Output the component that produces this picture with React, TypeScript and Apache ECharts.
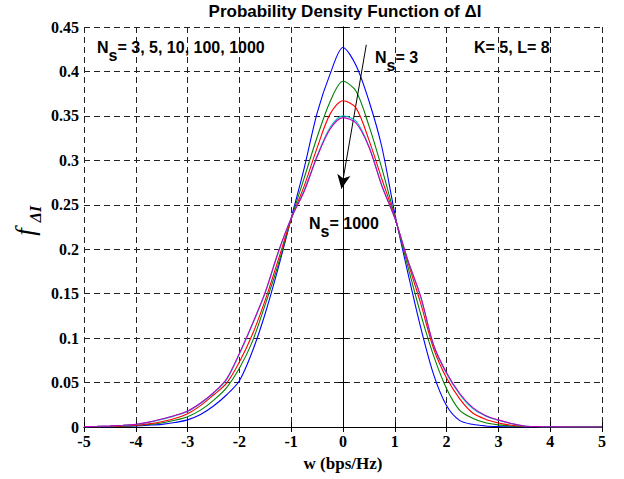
import React, { useEffect, useRef } from "react";
import * as echarts from "echarts";

const xValues = [
  -5, -4.75, -4.5, -4.25, -4, -3.75, -3.5, -3.25, -3, -2.75, -2.5, -2.25, -2, -1.75, -1.5, -1.25, -1, -0.75, -0.5, -0.25,
  0, 0.25, 0.5, 0.75, 1, 1.25, 1.5, 1.75, 2, 2.25, 2.5, 2.75, 3, 3.25, 3.5, 3.75, 4, 4.25, 4.5, 4.75, 5,
];

const ns3 = [
  0, 0.0002, 0.0004, 0.0008, 0.0012, 0.002, 0.003, 0.005, 0.008, 0.014, 0.0236, 0.036, 0.052, 0.085, 0.128, 0.179, 0.235, 0.291, 0.353, 0.397,
  0.427, 0.407, 0.367, 0.315, 0.24, 0.174, 0.112, 0.059, 0.024, 0.0075, 0.003, 0.0012, 0.0005, 0.0002, 0.0001, 0, 0, 0, 0, 0, 0,
];
const ns5 = [
  0.0001, 0.0003, 0.0006, 0.001, 0.0016, 0.0028, 0.0045, 0.0075, 0.0116, 0.019, 0.03, 0.044, 0.066, 0.096, 0.138, 0.183, 0.234, 0.28, 0.326, 0.366,
  0.389, 0.378, 0.339, 0.291, 0.237, 0.181, 0.127, 0.08, 0.043, 0.019, 0.0098, 0.0048, 0.0024, 0.0012, 0.0006, 0.0003, 0.0001, 0, 0, 0, 0,
];
const ns10 = [
  0.0002, 0.0004, 0.0008, 0.0013, 0.002, 0.0035, 0.006, 0.0095, 0.015, 0.024, 0.036, 0.049, 0.073, 0.104, 0.143, 0.188, 0.234, 0.271, 0.314, 0.352,
  0.367, 0.359, 0.323, 0.279, 0.236, 0.186, 0.139, 0.088, 0.055, 0.032, 0.016, 0.0087, 0.0045, 0.002, 0.0009, 0.0004, 0.0002, 0.0001, 0, 0, 0,
];
const ns100 = [
  0.0004, 0.0007, 0.0012, 0.0019, 0.0029, 0.0052, 0.0086, 0.0125, 0.0175, 0.0265, 0.038, 0.053, 0.082, 0.115, 0.151, 0.196, 0.235, 0.266, 0.305, 0.337,
  0.35, 0.344, 0.316, 0.272, 0.235, 0.188, 0.146, 0.092, 0.06, 0.037, 0.021, 0.0125, 0.0075, 0.0038, 0.0012, 0.0005, 0.0002, 0.0001, 0, 0, 0,
];
const ns1000 = [
  0.0004, 0.0008, 0.0013, 0.002, 0.003, 0.0055, 0.009, 0.013, 0.018, 0.027, 0.0386, 0.054, 0.083, 0.116, 0.152, 0.197, 0.235, 0.265, 0.304, 0.335,
  0.348, 0.342, 0.315, 0.271, 0.235, 0.188, 0.147, 0.092, 0.061, 0.038, 0.022, 0.013, 0.008, 0.004, 0.0012, 0.0005, 0.0002, 0.0001, 0, 0, 0,
];

const seriesNames = ["Ns=3", "Ns=5", "Ns=10", "Ns=100", "Ns=1000"];
const seriesValues = [ns3, ns5, ns10, ns100, ns1000];
const seriesColors = ["#0000ff", "#008000", "#ff0000", "#00bfbf", "#bf00bf"];

const arrowStart = [0.45, 0.43];
const arrowEnd = [-0.03, 0.268];

const serif = "Liberation Serif";
const sans = "Liberation Sans";

function axisBase() {
  return {
    axisLine: { show: true, lineStyle: { color: "#000", width: 1 } },
    axisTick: { show: true, inside: true, length: 5, lineStyle: { color: "#000", width: 1 } },
  };
}

function tickLabelStyle(margin: number) {
  return { margin, color: "#000", fontSize: 16, fontFamily: serif, fontWeight: "bold" };
}

function gridLineStyle() {
  return { show: true, lineStyle: { color: "#222", type: [6, 4], width: 1 } };
}

function note(text: string, left: number, top: number, size: number) {
  return {
    text,
    left,
    top,
    padding: 0,
    textAlign: "left",
    textVerticalAlign: "middle",
    textStyle: { fontFamily: sans, fontWeight: "bold", fontSize: size, color: "#000" },
  };
}

// label with subscript s: N at x, s lowered, then the rest
function subscripted(rest: string, left: number, top: number) {
  return [note("N", left, top, 16), note("s", left + 11.5, top + 8, 16), note(rest, left + 20.5, top, 16)];
}

export default function App() {
  const ref = useRef<HTMLDivElement>(null);

  useEffect(() => {
    const chart = echarts.init(ref.current as HTMLDivElement, null, { renderer: "svg" });

    const series: any[] = seriesValues.map((vals, i) => ({
      name: seriesNames[i],
      type: "line",
      xAxisIndex: 0,
      yAxisIndex: 0,
      symbol: "none",
      showSymbol: false,
      smooth: 0.3,
      lineStyle: { color: seriesColors[i], width: 1.1 },
      data: xValues.map((x, j) => [x, vals[j]]),
      z: 3 + i,
    }));
    series[4].markLine = {
      silent: true,
      symbol: ["none", "arrow"],
      symbolSize: [10, 14],
      label: { show: false },
      lineStyle: { color: "#000", type: "solid", width: 1 },
      data: [[{ coord: arrowStart }, { coord: arrowEnd }]],
    };

    const option: any = {
      animation: false,
      title: [
        {
          text: "Probability Density Function of ΔI",
          left: 345,
          top: 11,
          padding: 0,
          textAlign: "center",
          textVerticalAlign: "middle",
          textStyle: { fontFamily: sans, fontWeight: "bold", fontSize: 17, color: "#000" },
        },
        ...subscripted("= 3, 5, 10, 100, 1000", 97, 47),
        note("K= 5, L= 8", 474, 47, 16),
        ...subscripted("= 3", 375, 57),
        ...subscripted("= 1000", 309, 223),
      ],
      grid: { left: 84, right: 22, top: 27, bottom: 52 },
      xAxis: [
        {
          type: "value",
          min: -5,
          max: 5,
          interval: 1,
          position: "bottom",
          ...axisBase(),
          axisLabel: tickLabelStyle(6),
          splitLine: gridLineStyle(),
          name: "w (bps/Hz)",
          nameLocation: "middle",
          nameGap: 28,
          nameTextStyle: { color: "#000", fontFamily: serif, fontWeight: "bold", fontSize: 17 },
        },
        {
          type: "value",
          min: -5,
          max: 5,
          interval: 1,
          position: "top",
          ...axisBase(),
          axisLabel: { show: false },
          splitLine: { show: false },
        },
      ],
      yAxis: [
        {
          type: "value",
          min: 0,
          max: 0.45,
          interval: 0.05,
          position: "left",
          ...axisBase(),
          axisLabel: tickLabelStyle(5),
          splitLine: gridLineStyle(),
          name: "f",
          nameLocation: "middle",
          nameRotate: 90,
          nameGap: 46,
          nameTextStyle: {
            color: "#000",
            fontFamily: serif,
            fontStyle: "italic",
            fontSize: 27,
            padding: [0, 10, 0, 0],
          },
        },
        {
          type: "value",
          min: 0,
          max: 0.45,
          interval: 0.05,
          position: "right",
          ...axisBase(),
          axisLabel: { show: false },
          splitLine: { show: false },
        },
        {
          type: "value",
          min: 0,
          max: 0.45,
          interval: 0.05,
          position: "left",
          axisLine: { show: false },
          axisTick: { show: false },
          axisLabel: { show: false },
          splitLine: { show: false },
          name: "ΔI",
          nameLocation: "middle",
          nameRotate: 90,
          nameGap: 41,
          nameTextStyle: {
            color: "#000",
            fontFamily: serif,
            fontStyle: "italic",
            fontWeight: "bold",
            fontSize: 16,
            padding: [0, 0, 0, 26],
          },
        },
      ],
      series,
    };

    chart.setOption(option);
    return () => chart.dispose();
  }, []);

  return (
    <div
      ref={ref}
      style={{ position: "fixed", left: 0, top: 0, width: 624, height: 479, background: "#fff" }}
    />
  );
}
